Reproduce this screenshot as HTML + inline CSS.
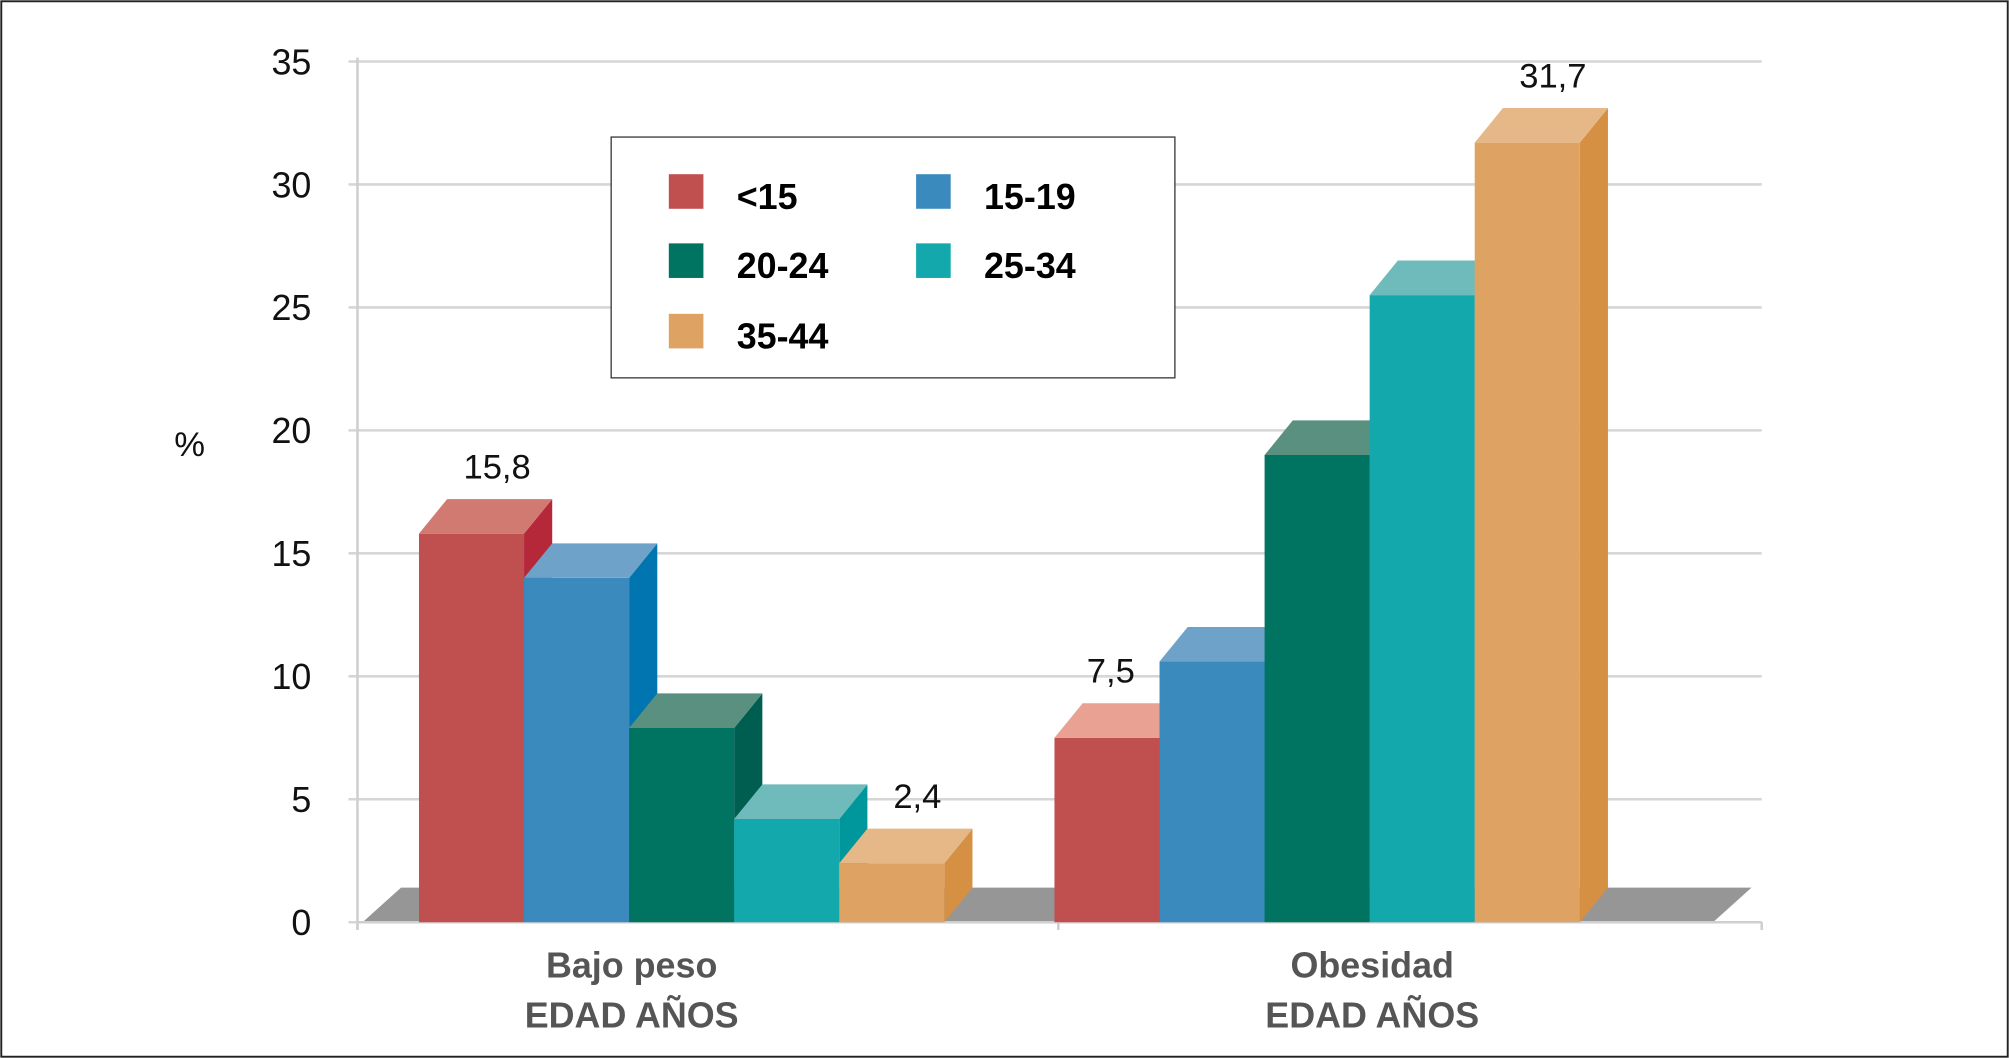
<!DOCTYPE html>
<html><head><meta charset="utf-8"><style>
html,body{margin:0;padding:0;background:#fff;}
svg{display:block;}
text{font-family:"Liberation Sans Narrow","Liberation Sans",sans-serif;}
</style></head><body>
<svg id="chart" width="2009" height="1058" viewBox="0 0 1568 826" preserveAspectRatio="none" xmlns="http://www.w3.org/2000/svg">
<rect x="1" y="1" width="1566" height="824" fill="#fff" stroke="#222" stroke-width="1.5"/>
<g id="grid"></g>
<g id="floor"></g>
<g id="bars"></g>
<g id="labels"></g>
<text x="148" y="356" font-size="27" text-anchor="middle" fill="#111">%</text>
<g>
<rect x="477" y="107" width="440" height="188" fill="#fff" stroke="#333" stroke-width="1"/>
<g id="legend"></g>
</g>
</svg>
<script>
const categories = ["Bajo peso", "Obesidad"];
const seriesNames = ["<15", "15-19", "20-24", "25-34", "35-44"];
const bajoPeso = [15.8, 14.0, 7.9, 4.2, 2.4];
const obesidad = [7.5, 10.6, 19.0, 25.5, 31.7];
const yTicks = [0, 5, 10, 15, 20, 25, 30, 35];
const valueLabels = [["15,8", null, null, null, "2,4"], ["7,5", null, null, null, "31,7"]];

const NS = "http://www.w3.org/2000/svg";
const y0 = 720, pxPerUnit = 19.2;
function y(v){ return y0 - v * pxPerUnit; }
const groupStart = [327, 823];
const catCenter = [493, 1071];
const barW = 82, dx = 22, dy = 27;
function x(g, i){ return groupStart[g] + i * barW; }
const colors = [
 {f:"#c0504f", t:"#d07a72", s:"#b5283a"},
 {f:"#3a8abd", t:"#6fa2c9", s:"#0075b0"},
 {f:"#007461", t:"#5a9080", s:"#005e50"},
 {f:"#13a8ac", t:"#6fbaba", s:"#00979c"},
 {f:"#dea262", t:"#e6b888", s:"#d69044"}
];
function mk(tag, attrs, parent){
  const e = document.createElementNS(NS, tag);
  for (const k in attrs) e.setAttribute(k, attrs[k]);
  parent.appendChild(e); return e;
}
const grid = document.getElementById("grid");
yTicks.forEach(t => {
  const l = mk("line", {x1:272, x2:1375, y1:y(t), y2:y(t), stroke:"#d6d6d6", "stroke-width":2}, grid);
  
  
  const tx = mk("text", {x:243, y:y(t)+10, "font-size":28, "text-anchor":"end", fill:"#111"}, grid);
  
  
  tx.textContent = t;
});
const ax = mk("line", {x1:279, x2:279, y1:y(35)-3, y2:y0+6, stroke:"#cfcfcf", "stroke-width":2}, grid);


[279, 826, 1375].forEach(px => {
  const tk = mk("line", {x1:px, x2:px, y1:y0, y2:y0+6, stroke:"#cfcfcf", "stroke-width":2}, grid);
  
  
});
const floor = document.getElementById("floor");
const fl = mk("polygon", {points:`283,${y0} ${283+dx+8},${y0-dy} 1367,${y0-dy} ${1367-dx-8},${y0}`, fill:"#969696"}, floor);


const xl = mk("line", {x1:279, x2:1375, y1:y0, y2:y0, stroke:"#cfcfcf", "stroke-width":2}, floor);



const bars = document.getElementById("bars");
const labels = document.getElementById("labels");
[bajoPeso, obesidad].forEach((vals, g) => {
  vals.forEach((v, i) => {
    const x0 = x(g, i), x1 = x0 + barW, yt = y(v);
    const c = colors[i];
    const gr = mk("g", {}, bars);
    
    
    mk("polygon", {points:`${x1},${y0} ${x1+dx},${y0-dy} ${x1+dx},${yt-dy} ${x1},${yt}`, fill:c.s}, gr);
    mk("rect", {x:x0, y:yt, width:barW, height:y0-yt, fill:c.f}, gr);
    mk("polygon", {points:`${x0},${yt} ${x0+dx},${yt-dy} ${x1+dx},${yt-dy} ${x1},${yt}`, fill:(g===1&&i===0)?"#e8a193":c.t}, gr);
    const lab = valueLabels[g][i];
    if (lab) {
      const off = (g===1 && i===0) ? 44 : barW/2+dx-2;
      const t = mk("text", {x:x0+off, y:yt-dy-16, "font-size":27, "text-anchor":"middle", fill:"#111"}, labels);
      
      
      t.textContent = lab;
    }
  });
  const cx = catCenter[g];
  const t1 = mk("text", {x:cx, y:763, "font-size":28, "font-weight":"bold", "text-anchor":"middle", fill:"#555"}, labels);
  
  
  t1.textContent = categories[g];
  const t2 = mk("text", {x:cx, y:802, "font-size":28, "font-weight":"bold", "text-anchor":"middle", fill:"#555"}, labels);
  
  
  t2.textContent = "EDAD AÑOS";
});

const legend = document.getElementById("legend");
const lpos = [[522,136],[715,136],[522,190],[715,190],[522,245]];
seriesNames.forEach((n, i) => {
  const g = mk("g", {}, legend);
  
  
  mk("rect", {x:lpos[i][0], y:lpos[i][1], width:27, height:27, fill:colors[i].f}, g);
  const t = mk("text", {x:lpos[i][0]+53, y:lpos[i][1]+27, "font-size":28, "font-weight":"bold", fill:"#000"}, g);
  t.textContent = n;
});
</script>
</body></html>
